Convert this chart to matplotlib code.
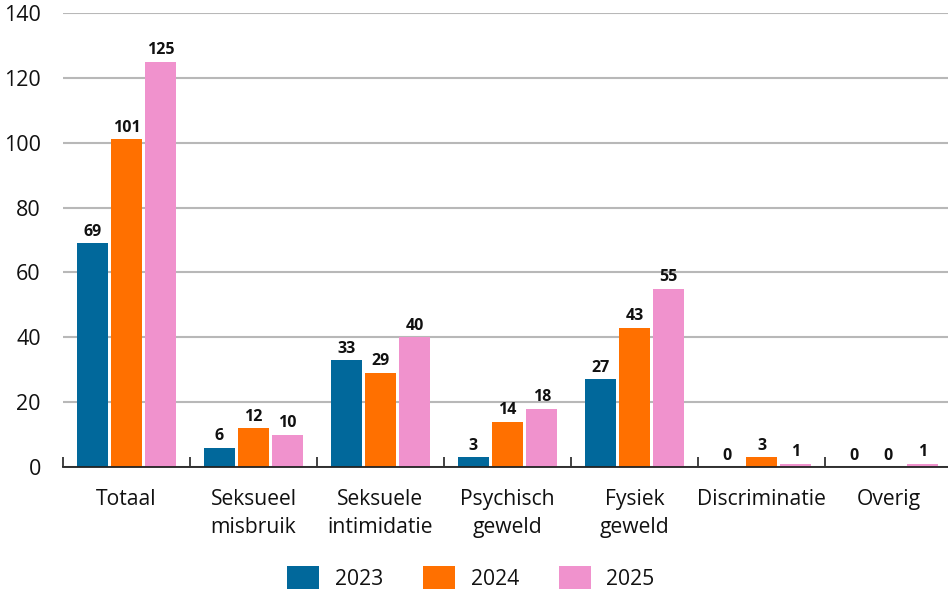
import matplotlib
matplotlib.use("Agg")
import matplotlib.pyplot as plt
import numpy as np
from matplotlib.patches import Patch

categories = ["Totaal", "Seksueel\nmisbruik", "Seksuele\nintimidatie", "Psychisch\ngeweld",
              "Fysiek\ngeweld", "Discriminatie", "Overig"]
years = ["2023", "2024", "2025"]
v2023 = [69, 6, 33, 3, 27, 0, 0]
v2024 = [101, 12, 29, 14, 43, 3, 0]
v2025 = [125, 10, 40, 18, 55, 1, 1]
colors = ["#01689b", "#ff7000", "#f092cd"]
yticks = [0, 20, 40, 60, 80, 100, 120, 140]

plt.rcParams['font.family'] = ['Open Sans', 'DejaVu Sans']

fig = plt.figure(figsize=(9.48, 5.91), dpi=100)
ax = fig.add_axes([63/948, 124/591, 889/948, (467-13)/591])

x = np.arange(len(categories))
bw = 0.245
gap = 0.024
for i, (vals, c) in enumerate(zip([v2023, v2024, v2025], colors)):
    off = (i - 1) * (bw + gap)
    ax.bar(x + off, vals, width=bw, color=c, zorder=3)
    for xi, v in zip(x + off, vals):
        ax.annotate(str(v), (xi, v), xytext=(0, 2.5), textcoords="offset points",
                    ha="center", va="bottom", fontsize=11.5, fontweight="bold", color="#111111")

ax.set_xlim(-0.5, len(categories) - 0.5)
ax.set_ylim(0, 140)
ax.set_yticks(yticks)
ax.set_yticklabels([str(t) for t in yticks], fontsize=15.5, color="#111111")
ax.yaxis.grid(True, color="#b8b8b8", linewidth=1.5, zorder=0)
ax.tick_params(axis="y", length=0, pad=16)

ax.set_xticks(x)
ax.set_xticklabels(categories, fontsize=15.2, color="#111111", linespacing=1.45)
ax.set_xticks(np.arange(len(categories)) - 0.5, minor=True)
ax.tick_params(axis="x", which="major", length=0, pad=16)
ax.tick_params(axis="x", which="minor", direction="in", length=7, width=1.3, color="#333333")

for s in ["top", "right", "left"]:
    ax.spines[s].set_visible(False)
ax.spines["bottom"].set_color("#222222")
ax.spines["bottom"].set_linewidth(1.3)
ax.spines["bottom"].set_zorder(4)

handles = [Patch(facecolor=c, label=y) for c, y in zip(colors, years)]
fig.legend(handles=handles, loc="center", bbox_to_anchor=(471/948, 1 - 578/591), ncol=3,
           frameon=False, fontsize=15.2, handlelength=1.5, handleheight=1.25,
           handletextpad=0.75, columnspacing=1.9, labelcolor="#111111")

fig.savefig("out.png", dpi=100)
